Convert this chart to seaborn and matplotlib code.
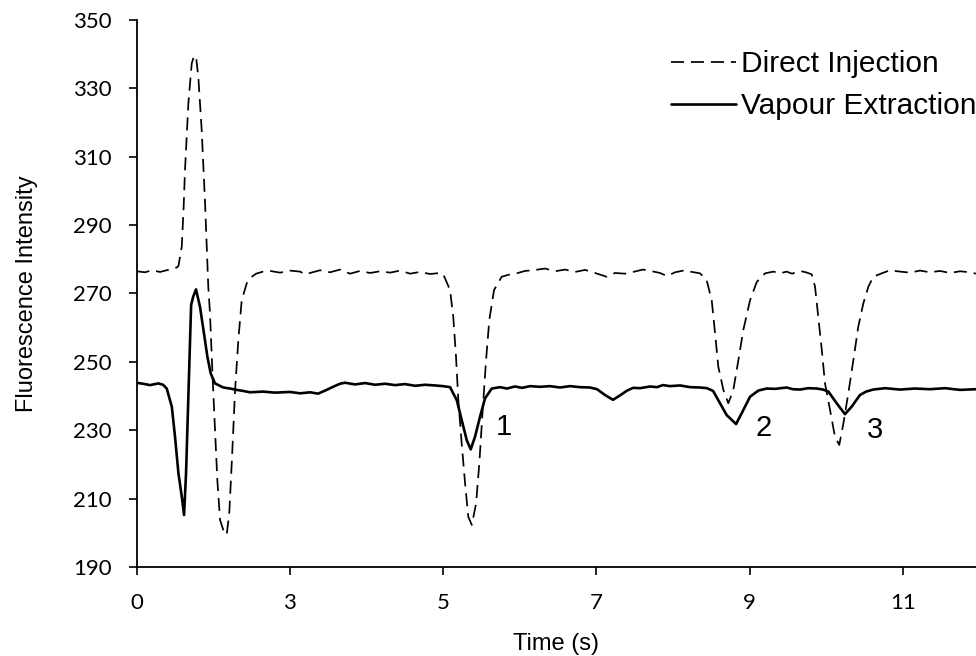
import matplotlib
matplotlib.use("Agg")
import matplotlib.pyplot as plt
import seaborn as sns
import pandas as pd

# ---- data (x in axis units: 10 units per labelled tick) ----
di_time = [0.0, 0.55, 1.01, 1.53, 2.05, 2.51, 2.73, 2.95, 3.07, 3.16, 3.38, 3.60, 3.75, 3.88,
           4.03, 4.25, 4.47, 4.68, 4.79, 4.97, 5.12, 5.27, 5.45, 5.66, 5.88, 6.05, 6.21, 6.43,
           6.64, 6.86, 7.19, 7.40, 7.80, 8.25, 8.71, 9.36, 10.01, 10.67, 10.99, 11.32, 11.97,
           12.62, 13.27, 13.93, 14.58, 15.23, 15.88, 16.54, 17.19, 17.84, 18.49, 19.15, 19.80,
           20.01, 20.45, 20.66, 20.84, 20.99, 21.21, 21.43, 21.64, 21.87, 22.15, 22.36, 22.58,
           22.80, 23.01, 23.32, 23.82, 24.36, 24.80, 25.34, 25.86, 26.65, 27.30, 27.95, 28.60,
           29.26, 29.91, 30.67, 31.21, 31.86, 32.39, 33.04, 33.63, 34.15, 34.60, 35.13, 35.78,
           36.11, 36.76, 37.19, 37.52, 37.74, 37.95, 38.28, 38.60, 38.93, 39.26, 39.58, 40.02,
           40.46, 41.00, 41.54, 41.98, 42.41, 42.76, 43.28, 43.67, 44.04, 44.26, 44.47, 44.70,
           44.91, 45.24, 45.56, 45.84, 46.11, 46.43, 46.76, 47.08, 47.41, 47.74, 48.06, 48.61,
           49.15, 49.80, 50.46, 51.11, 51.76, 52.41, 53.07, 53.72, 54.37, 54.76]
di_value = [276.5, 276.2, 276.8, 276.3, 276.9, 277.3, 278.0, 283.7, 295.0, 306.0, 325.6, 337.3,
            339.5, 339.3, 333.4, 317.8, 296.4, 272.0, 264.3, 244.7, 230.0, 215.4, 203.7, 200.8,
            199.4, 205.8, 220.4, 241.8, 256.4, 268.0, 273.0, 274.5, 275.8, 276.4, 276.6, 276.1,
            276.7, 276.4, 275.6, 276.0, 276.8, 276.2, 277.0, 275.8, 276.6, 276.0, 276.5, 276.1,
            276.7, 275.8, 276.3, 275.7, 276.0, 275.6, 271.0, 263.2, 251.5, 238.8, 226.2, 214.5,
            204.7, 202.3, 208.6, 220.3, 235.9, 250.5, 262.2, 271.0, 274.9, 275.6, 275.9, 276.6,
            276.8, 277.3, 276.5, 277.0, 276.3, 276.9, 276.0, 274.9, 276.0, 275.8, 276.3, 277.0,
            276.5, 276.0, 275.1, 276.2, 276.8, 276.4, 275.9, 273.9, 268.0, 258.3, 248.6, 241.8,
            237.9, 241.8, 250.5, 259.3, 268.0, 273.4, 275.9, 276.4, 275.9, 276.4, 275.8, 276.6,
            276.2, 275.6, 272.0, 263.2, 253.5, 243.7, 235.9, 228.1, 225.7, 232.0, 240.8, 250.5,
            260.3, 267.1, 272.0, 274.9, 275.9, 276.8, 276.4, 276.1, 276.7, 276.2, 276.6, 276.0,
            276.5, 276.2, 275.8]

ve_time = [0.0, 0.42, 0.88, 1.21, 1.42, 1.73, 1.97, 2.30, 2.51, 2.73, 2.95, 3.10, 3.23, 3.38,
           3.56, 3.69, 3.88, 4.14, 4.40, 4.62, 4.84, 5.12, 5.66, 6.10, 6.54, 6.95, 7.40, 8.25,
           9.03, 10.01, 10.67, 11.32, 11.84, 12.30, 12.82, 13.27, 13.60, 14.25, 14.91, 15.56,
           16.21, 16.86, 17.51, 18.17, 18.82, 19.47, 19.99, 20.45, 20.89, 21.21, 21.54, 21.80,
           22.08, 22.41, 22.73, 23.17, 23.71, 24.15, 24.69, 25.15, 25.67, 26.32, 26.97, 27.62,
           28.28, 28.93, 29.58, 30.04, 30.56, 31.08, 31.54, 32.00, 32.39, 32.84, 33.50, 33.95,
           34.34, 34.80, 35.45, 36.11, 36.76, 37.21, 37.61, 38.06, 38.50, 39.11, 39.58, 40.02,
           40.56, 41.11, 41.65, 42.41, 42.82, 43.28, 43.80, 44.37, 44.78, 45.13, 45.67, 46.21,
           46.65, 47.19, 47.59, 48.06, 48.82, 49.80, 50.78, 51.76, 52.74, 53.72, 54.76]
ve_value = [243.9, 243.6, 243.2, 243.5, 243.7, 243.3, 242.2, 236.9, 228.1, 217.5, 210.6, 205.2,
            217.5, 239.8, 266.6, 269.0, 271.2, 266.1, 258.3, 251.5, 246.6, 243.7, 242.5, 242.2,
            241.8, 241.5, 241.1, 241.3, 241.0, 241.2, 240.8, 241.1, 240.7, 241.6, 242.7, 243.6,
            243.9, 243.4, 243.8, 243.3, 243.6, 243.2, 243.5, 243.0, 243.3, 243.1, 242.9, 242.6,
            238.8, 233.0, 227.1, 224.4, 228.1, 234.0, 239.3, 242.2, 242.6, 242.2, 242.8, 242.4,
            242.9, 242.7, 242.9, 242.5, 242.9, 242.6, 242.5, 242.0, 240.3, 238.9, 240.2, 241.6,
            242.4, 242.3, 242.8, 242.6, 243.2, 242.9, 243.1, 242.6, 242.5, 242.3, 241.5, 237.9,
            234.4, 231.8, 235.9, 239.8, 241.6, 242.2, 242.1, 242.5, 242.0, 241.9, 242.3, 242.2,
            241.9, 241.3, 237.9, 234.7, 236.9, 240.3, 241.3, 241.9, 242.3, 241.9, 242.2, 242.0,
            242.3, 241.8, 242.0]

tick_pos = [0, 10, 20, 30, 40, 50]
tick_labels = ["0", "3", "5", "7", "9", "11"]
y_ticks = [190, 210, 230, 250, 270, 290, 310, 330, 350]

peak_labels = ["1", "2", "3"]
peak_label_x = [23.97, 40.93, 48.17]
peak_label_y = [230.9, 230.6, 230.1]

# ---- plot ----
sns.set_theme(style="white")
plt.rcParams["font.family"] = ["Liberation Sans", "DejaVu Sans"]

fig = plt.figure(figsize=(9.76, 6.56), dpi=100)
ax = fig.add_axes([0.1399, 0.1357, 0.8601, 0.8338])

df_di = pd.DataFrame({"t": di_time, "v": di_value})
df_ve = pd.DataFrame({"t": ve_time, "v": ve_value})

sns.lineplot(data=df_di, x="t", y="v", ax=ax, color="black", linewidth=1.25,
             sort=False, estimator=None, label="Direct Injection", dashes=False)
sns.lineplot(data=df_ve, x="t", y="v", ax=ax, color="black", linewidth=1.9,
             sort=False, estimator=None, label="Vapour Extraction")
ax.lines[0].set_dashes([7.5, 4])

ax.set_xlim(0, 54.76)
ax.set_ylim(190, 350)
ax.set_xticks(tick_pos)
ax.set_xticklabels(tick_labels)
ax.set_yticks(y_ticks)

for lbl in ax.get_xticklabels() + ax.get_yticklabels():
    lbl.set_fontfamily(["Lato", "DejaVu Sans"])
    lbl.set_fontsize(16)

ax.tick_params(axis="both", which="major", direction="out", length=6, width=1.2,
               color="black", labelcolor="black", left=True, bottom=True)
ax.tick_params(axis="x", pad=13)
ax.tick_params(axis="y", pad=12)

for side in ["left", "bottom"]:
    ax.spines[side].set_color("black")
    ax.spines[side].set_linewidth(1.3)
ax.spines["right"].set_visible(False)
ax.spines["top"].set_visible(False)

ax.set_xlabel("Time (s)", fontsize=17, color="black", labelpad=14)
ax.set_ylabel("Fluorescence Intensity", fontsize=17, color="black", labelpad=25)

for txt, xx, yy in zip(peak_labels, peak_label_x, peak_label_y):
    ax.text(xx, yy, txt, fontsize=21, ha="center", va="center", color="black")

leg = ax.legend(loc="upper left", bbox_to_anchor=(0.622, 0.967), frameon=False,
                fontsize=21.5, handlelength=2.2, handletextpad=0.17, labelspacing=0.47,
                borderaxespad=0)
for t in leg.get_texts():
    t.set_color("black")

fig.savefig("out.png", dpi=100)
